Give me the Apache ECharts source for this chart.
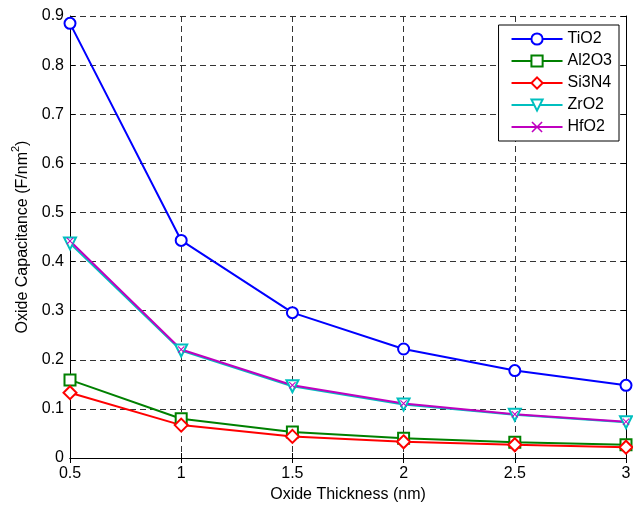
<!DOCTYPE html>
<html>
<head>
<meta charset="utf-8">
<script src="https://cdn.jsdelivr.net/npm/echarts@6/dist/echarts.min.js"></script>
<style>
  html, body { margin: 0; padding: 0; background: #fff; }
  #chart { width: 633px; height: 506px; }
</style>
</head>
<body>
<div id="chart"></div>
<script>
// oxide thickness (nm)
var thickness = [0.5, 1, 1.5, 2, 2.5, 3]
// capacitance per oxide (F/nm^2)
var tio2 = [0.885, 0.443, 0.296, 0.222, 0.178, 0.148]
var al2o3 = [0.159, 0.080, 0.053, 0.040, 0.032, 0.027]
var si3n4 = [0.133, 0.067, 0.044, 0.033, 0.027, 0.022]
var zro2 = [0.437, 0.219, 0.146, 0.109, 0.088, 0.073]
var hfo2 = [0.442, 0.221, 0.148, 0.111, 0.089, 0.074]

var font = 'Liberation Sans, Arial, sans-serif'
var xMark = 'path://M0,1L1,0L5,4L9,0L10,1L6,5L10,9L9,10L5,6L1,10L0,9L4,5Z'

function pairs (ys) {
  return thickness.map(function (x, i) { return [x, ys[i]] })
}

function line (name, ys, color, symbol, size, extra) {
  return Object.assign({
    type: 'line',
    name: name,
    data: pairs(ys),
    symbol: symbol,
    symbolSize: size,
    showAllSymbol: true,
    lineStyle: {color: color, width: 2},
    itemStyle: {color: color, borderColor: color, borderWidth: 1.6},
    emphasis: {disabled: true},
    z: 3
  }, extra || {})
}

var gridLine = {show: true, lineStyle: {color: '#333', type: [6, 4], width: 1}}
var tickIn = {show: true, inside: true, length: 5, lineStyle: {color: '#000'}}
var axisBlack = {show: true, lineStyle: {color: '#000', width: 1}}

var chart = echarts.init(document.getElementById('chart'))
chart.setOption({
  backgroundColor: '#fff',
  animation: false,
  textStyle: {fontFamily: font},
  grid: {left: 70, right: 7, top: 16, bottom: 48, containLabel: false, outerBoundsMode: 'none'},
  legend: {
    right: 14,
    top: 25,
    orient: 'vertical',
    backgroundColor: '#fff',
    borderColor: '#000',
    borderWidth: 1,
    borderRadius: 0,
    padding: [6, 7, 6, 12],
    itemWidth: 51,
    itemHeight: 14,
    itemGap: 6,
    textStyle: {fontFamily: font, fontSize: 16, color: '#000'},
    data: ['TiO2', 'Al2O3', 'Si3N4', 'ZrO2', 'HfO2']
  },
  xAxis: [
    {
      type: 'value',
      min: 0.5,
      max: 3,
      interval: 0.5,
      name: 'Oxide Thickness (nm)',
      nameLocation: 'middle',
      nameGap: 27,
      nameTextStyle: {fontFamily: font, fontSize: 16, color: '#000'},
      axisLine: axisBlack,
      axisTick: tickIn,
      axisLabel: {fontFamily: font, fontSize: 16, color: '#000', margin: 8},
      splitLine: gridLine
    },
    {
      type: 'value',
      position: 'top',
      min: 0.5,
      max: 3,
      interval: 0.5,
      axisLine: axisBlack,
      axisTick: tickIn,
      axisLabel: {show: false},
      splitLine: {show: false}
    }
  ],
  yAxis: [
    {
      type: 'value',
      min: 0,
      max: 0.9,
      interval: 0.1,
      name: '{a|Oxide Capacitance (F/nm}{s|2}{a|)}',
      nameLocation: 'middle',
      nameGap: 28,
      nameTextStyle: {
        rich: {
          a: {fontFamily: font, fontSize: 16, color: '#000', lineHeight: 20, verticalAlign: 'bottom'},
          s: {fontFamily: font, fontSize: 11, color: '#000', lineHeight: 20, verticalAlign: 'top'}
        }
      },
      axisLine: axisBlack,
      axisTick: tickIn,
      axisLabel: {fontFamily: font, fontSize: 16, color: '#000', margin: 6},
      splitLine: gridLine
    },
    {
      type: 'value',
      position: 'right',
      min: 0,
      max: 0.9,
      interval: 0.1,
      axisLine: axisBlack,
      axisTick: tickIn,
      axisLabel: {show: false},
      splitLine: {show: false}
    }
  ],
  series: [
    line('TiO2', tio2, '#0000ff', 'emptyCircle', 11),
    line('Al2O3', al2o3, '#008000', 'emptyRect', 11),
    line('Si3N4', si3n4, '#ff0000', 'emptyDiamond', 13),
    line('ZrO2', zro2, '#00bfbf', 'emptyTriangle', 12, {symbolRotate: 180}),
    line('HfO2', hfo2, '#bf00bf', xMark, 7, {itemStyle: {color: '#bf00bf', borderWidth: 0}})
  ]
})
</script>
</body>
</html>
